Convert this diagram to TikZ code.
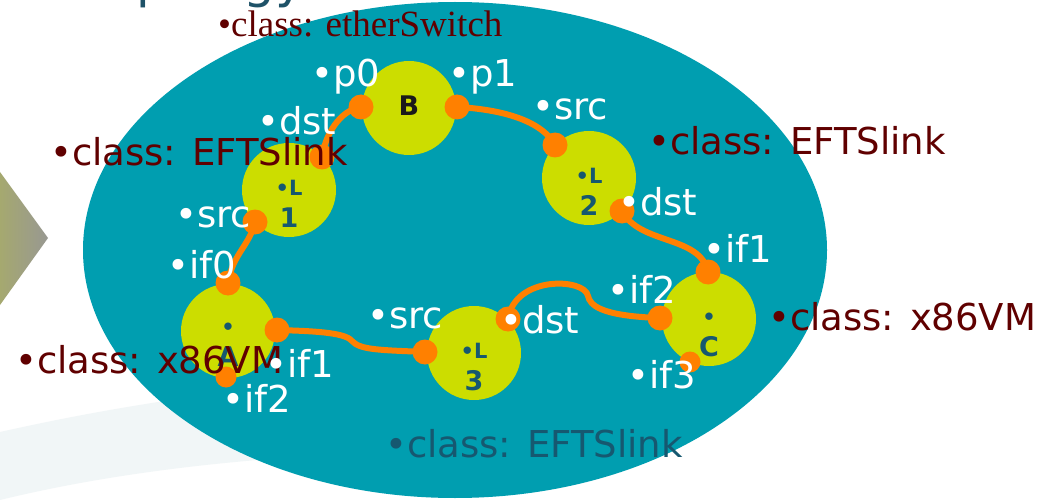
\documentclass[tikz,border=0pt]{standalone}
\usepackage{fontspec}
\setmainfont{DejaVu Sans}
\newfontfamily\timesfont{Liberation Serif}
\definecolor{sea}{RGB}{0,158,176}
\definecolor{lime}{RGB}{204,221,0}
\definecolor{tangerine}{RGB}{255,128,0}
\definecolor{maroon}{RGB}{96,0,0}
\definecolor{inkteal}{RGB}{22,88,112}
\definecolor{titleteal}{RGB}{30,82,104}
\definecolor{haze}{RGB}{241,246,247}
\begin{document}
\begin{tikzpicture}[x=1pt, y=-1pt,
                    every node/.style={inner sep=0pt},
                    device/.style={circle, fill=lime, minimum size=94pt},
                    devtag/.style={text=inkteal, align=center, font=\bfseries\fontsize{27}{32}\selectfont},
                    port/.style={circle, fill=tangerine, minimum size=25pt},
                    smallport/.style={port, minimum size=21pt},
                    link/.style={draw=tangerine, line width=6pt, line cap=round},
                    portlabel/.style={anchor=base west, text=white, font=\fontsize{37}{40}\selectfont},
                    classlabel/.style={anchor=base west, text=maroon, font=\fontsize{37}{40}\selectfont},
                ]
                \clip (0,0) rectangle (1050,500);
                \fill[white] (0,0) rectangle (1050,500);
                \fill[haze] (0,432) .. controls (90,412) and (180,396) .. (330,380)
                    -- (330,455) .. controls (200,462) and (90,478) .. (0,500) -- cycle;
                \shade[left color={rgb,255:red,168;green,172;blue,104}, right color={rgb,255:red,152;green,152;blue,146}]
                    (-10,160) -- (0,172) -- (48,238) -- (0,305) -- (-10,318) -- cycle;
                \node[anchor=base west, text=titleteal, font=\fontsize{50}{55}\selectfont] (title) at (84,-2) {Topology};
                \fill[sea] (455,250) ellipse [x radius=372pt, y radius=248pt];
                \node[device] (B) at (409,108) {};
                \node[device] (L1) at (289,190) {};
                \node[device] (L2) at (589,178) {};
                \node[device] (L3) at (474,353) {};
                \node[device] (A) at (228,331) {};
                \node[device] (C) at (709,319) {};
                \node[text={rgb,255:red,26;green,26;blue,26}, font=\bfseries\fontsize{27}{30}\selectfont] (Btag) at ([yshift=2pt]B.center) {B};
                \node[devtag] (L1tag) at ([yshift=-14pt]L1.center) {{\fontsize{21}{32}\selectfont •L}\\1};
                \node[devtag] (L2tag) at ([yshift=-14pt]L2.center) {{\fontsize{21}{32}\selectfont •L}\\2};
                \node[devtag] (L3tag) at ([yshift=-14pt]L3.center) {{\fontsize{21}{32}\selectfont •L}\\3};
                \node[devtag] (Atag) at ([yshift=-14pt]A.center) {{\fontsize{21}{32}\selectfont •}\\A};
                \node[devtag] (Ctag) at ([yshift=-16pt]C.center) {{\fontsize{21}{32}\selectfont •}\\C};
                \coordinate (Bp0) at (361,107);
                \coordinate (Bp1) at (457,107);
                \coordinate (L1dst) at (322,157);
                \coordinate (L1src) at (255,222);
                \coordinate (L2src) at (555,145);
                \coordinate (L2dst) at (622,211);
                \coordinate (Cif1) at (708,272);
                \coordinate (Cif2) at (660,318);
                \coordinate (Cif3) at (690,362);
                \coordinate (L3dst) at (508,319);
                \coordinate (L3src) at (425,352);
                \coordinate (Aif0) at (228,283);
                \coordinate (Aif1) at (277,330);
                \coordinate (Aif2) at (226,377);
                \draw[link] (Bp0) .. controls (340,110) and (325,135) .. (L1dst);
                \draw[link] (Bp1) .. controls (495,109) and (540,118) .. (L2src);
                \draw[link] (L2dst) .. controls (640,245) and (700,235) .. (Cif1);
                \draw[link] (Cif2) .. controls (600,316) and (590,305) .. (588,296)
                    .. controls (585,278) and (515,275) .. (L3dst);
                \draw[link] (L3src) .. controls (380,350) and (360,350) .. (352,341)
                    .. controls (345,332) and (310,331) .. (Aif1);
                \draw[link] (Aif0) .. controls (232,255) and (250,245) .. (L1src);
                \foreach \p in {Bp0,Bp1,L1dst,L1src,L2src,L2dst,Cif1,Cif2,L3dst,L3src,Aif0,Aif1}
                    \node[port] (\p dot) at (\p) {};
                \foreach \p in {Cif3,Aif2}
                    \node[smallport] (\p dot) at (\p) {};
                \node[portlabel] (Bp0lab) at (311,87) {•p0};
                \node[portlabel] (Bp1lab) at (448,87) {•p1};
                \node[portlabel] (L1dstlab) at (257,135) {•dst};
                \node[portlabel] (L1srclab) at (175,227) {•src};
                \node[portlabel] (L2srclab) at (532,120) {•src};
                \node[portlabel] (L2dstlab) at (618,215) {•dst};
                \node[portlabel] (Cif1lab) at (703,262) {•if1};
                \node[portlabel] (Cif2lab) at (607,303) {•if2};
                \node[portlabel] (Cif3lab) at (627,388) {•if3};
                \node[portlabel] (L3dstlab) at (500,333) {•dst};
                \node[portlabel] (L3srclab) at (367,328) {•src};
                \node[portlabel] (Aif0lab) at (167,278) {•if0};
                \node[portlabel] (Aif2lab) at (222,412) {•if2};
                \node[classlabel, font=\timesfont\fontsize{37}{40}\selectfont] (Bclass) at (218,37) {•class: etherSwitch};
                \node[classlabel] (L1class) at (50,165) {•class: EFTSlink};
                \node[classlabel] (L2class) at (648,155) {•class: EFTSlink};
                \node[classlabel] (Aclass) at (15,373) {•class: x86VM};
                \node[classlabel] (Cclass) at (768,330) {•class: x86VM};
                \node[classlabel, text=inkteal] (L3class) at (385,457) {•class: EFTSlink};
                \node[portlabel] (Aif1lab) at (265,377) {•if1};
                \end{tikzpicture}
\end{document}
